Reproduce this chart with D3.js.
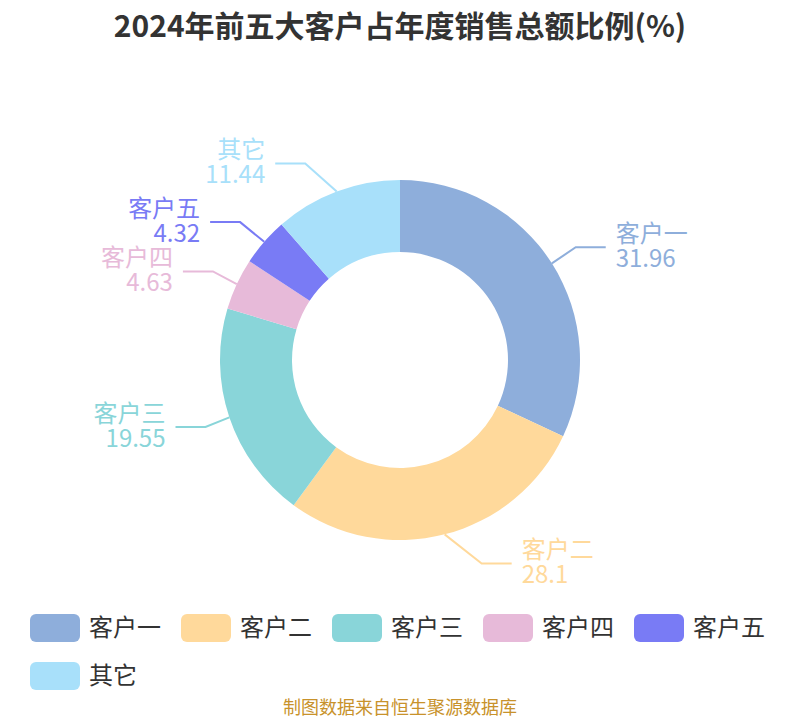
<!DOCTYPE html>
<html>
<head>
<meta charset="utf-8">
<script src="https://cdn.jsdelivr.net/npm/d3@7/dist/d3.min.js"></script>
<style>
  html, body { margin: 0; padding: 0; background: #fff; }
  svg { display: block; }
  text { font-family: "Noto Sans CJK SC", "Noto Sans", sans-serif; }
</style>
</head>
<body>
<svg id="chart" width="800" height="720"></svg>
<script>
const titleText = "2024年前五大客户占年度销售总额比例(%)";
const sourceText = "制图数据来自恒生聚源数据库";
const categories = ["客户一", "客户二", "客户三", "客户四", "客户五", "其它"];
const values = [31.96, 28.1, 19.55, 4.63, 4.32, 11.44];
const colors = ["#8eaedb", "#ffd99b", "#89d5d9", "#e7bad9", "#797bf5", "#a8e0fa"];

const W = 800, H = 720;
const cx = 400, cy = 360;
const outerR = 180, innerR = 108;

const svg = d3.select("#chart");

// title
svg.append("text")
  .attr("x", W / 2).attr("y", 37)
  .attr("text-anchor", "middle")
  .attr("font-size", 30).attr("font-weight", "bold")
  .attr("fill", "#333")
  .text(titleText);

const data = categories.map((c, i) => ({ name: c, value: values[i], color: colors[i] }));

const pie = d3.pie().sort(null).value(d => d.value).startAngle(0).endAngle(2 * Math.PI);
const arcs = pie(data);
const arc = d3.arc().innerRadius(innerR).outerRadius(outerR);

const g = svg.append("g").attr("transform", `translate(${cx},${cy})`);
g.selectAll("path.slice").data(arcs).enter().append("path")
  .attr("class", "slice")
  .attr("d", arc)
  .attr("fill", d => d.data.color);

// labels
const len2 = 30, yR = outerR + 30, rA = outerR + 24, rB = outerR + 42;
const lab = g.append("g");
arcs.forEach(a => {
  const mid = (a.startAngle + a.endAngle) / 2;
  const sx = outerR * Math.sin(mid), sy = -outerR * Math.cos(mid);
  const dir = Math.sin(mid) >= 0 ? 1 : -1;
  const by = -yR * Math.cos(mid);
  const bx = dir * rA * Math.sqrt(Math.max(0, 1 - (by * by) / (rB * rB)));
  const ex = bx + dir * len2;
  lab.append("polyline")
    .attr("points", [[sx, sy], [bx, by], [ex, by]].map(p => p.join(",")).join(" "))
    .attr("fill", "none")
    .attr("stroke", a.data.color)
    .attr("stroke-width", 2);
  const tx = ex + dir * 10;
  const anchor = dir > 0 ? "start" : "end";
  const t = lab.append("text")
    .attr("text-anchor", anchor)
    .attr("font-size", 24)
    .attr("fill", a.data.color);
  t.append("tspan").attr("x", tx).attr("y", by - 5).text(a.data.name);
  t.append("tspan").attr("x", tx).attr("y", by + 20).text(a.data.value);
});

// legend
const legend = svg.append("g");
let lx = 30, ly = 614;
const rowH = 48, maxX = 780;
data.forEach(d => {
  const item = legend.append("g");
  const t = item.append("text")
    .attr("font-size", 24)
    .attr("fill", "#333")
    .text(d.name);
  const tw = t.node().getComputedTextLength();
  if (lx + 50 + 9 + tw > maxX) { lx = 30; ly += rowH; }
  item.append("rect")
    .attr("x", lx).attr("y", ly)
    .attr("width", 50).attr("height", 28)
    .attr("rx", 6).attr("ry", 6)
    .attr("fill", d.color);
  t.attr("x", lx + 59).attr("y", ly + 22);
  lx = lx + 59 + tw + 20;
});

// source
svg.append("text")
  .attr("x", W / 2).attr("y", 714)
  .attr("text-anchor", "middle")
  .attr("font-size", 18)
  .attr("fill", "#c8922b")
  .text(sourceText);
</script>
</body>
</html>
